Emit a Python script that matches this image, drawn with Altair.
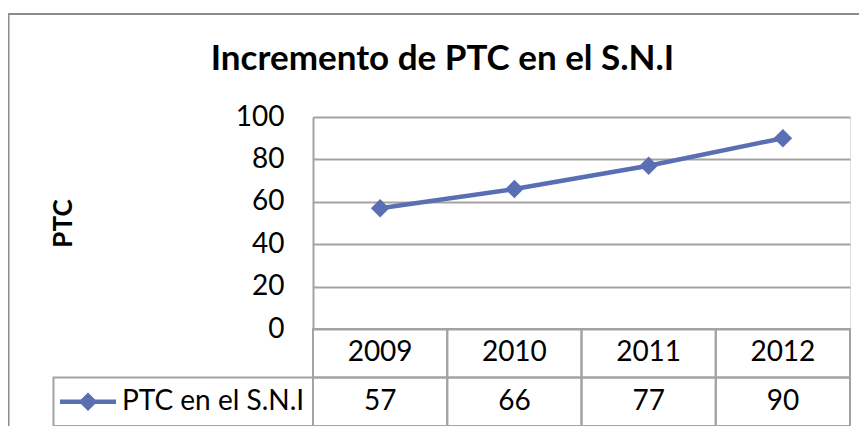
import altair as alt
import pandas as pd

# ---- data ----
title_text = "Incremento de PTC en el S.N.I"
y_title = "PTC"
series_name = "PTC en el S.N.I"
years = ["2009", "2010", "2011", "2012"]
values = [57, 66, 77, 90]
y_ticks = [0, 20, 40, 60, 80, 100]
table_rows = ["header", "data"]

# ---- style ----
BLUE = "#5A6FB3"
GRID = "#a3a3a3"
FRAME = "#8c8c8c"
FONT = "Lato"
W, H = 537, 309
UPPER = 212

line_df = pd.DataFrame({"year": years, "value": values})
table_df = pd.DataFrame({
    "year": years + years,
    "row": [table_rows[0]] * len(years) + [table_rows[1]] * len(years),
    "label": years + [str(v) for v in values],
})
legend_df = pd.DataFrame({"row": [table_rows[1]], "serie": [series_name]})
frame_df = pd.DataFrame({"k": [0]})

x_scale = alt.Scale(type="band", domain=years, paddingInner=0, paddingOuter=0)
x_band = alt.X("year:N", scale=x_scale, axis=None)
x_center = alt.X("year:N", scale=x_scale, axis=None, bandPosition=0.5)

y_val = alt.Y(
    "value:Q",
    scale=alt.Scale(domain=[0, 100], range=[UPPER, 0], nice=False),
    axis=alt.Axis(
        values=y_ticks, title=y_title, grid=True, gridColor=GRID, gridWidth=2,
        domainColor=GRID, domainWidth=2, ticks=False,
        labelFont=FONT, labelFontSize=28, labelColor="black", labelPadding=29,
        titleFont=FONT, titleFontSize=26, titleFontWeight="bold", titleColor="black",
        titleX=-250, titleY=UPPER / 2, titleBaseline="middle", titleAngle=270,
    ),
)

line = alt.Chart(line_df).mark_line(color=BLUE, strokeWidth=4.5).encode(x=x_center, y=y_val)
points = alt.Chart(line_df).mark_point(
    shape="diamond", filled=True, size=340, color=BLUE, opacity=1
).encode(x=x_center, y=y_val)
upper = alt.layer(line, points)

row_scale = alt.Scale(type="band", domain=table_rows, range=[UPPER, H], paddingInner=0, paddingOuter=0)
y_row = alt.Y("row:N", scale=row_scale, axis=None)
y_row_c = alt.Y("row:N", scale=row_scale, axis=None, bandPosition=0.5)

cells = alt.Chart(table_df).mark_rect(
    fillOpacity=0, stroke=GRID, strokeWidth=2
).encode(x=x_band, y=y_row)
texts = alt.Chart(table_df).mark_text(
    font=FONT, fontSize=28, color="black", baseline="middle", align="center"
).encode(x=x_center, y=y_row_c, text="label:N")

legend_cell = alt.Chart(legend_df).mark_rect(
    fillOpacity=0, stroke=GRID, strokeWidth=2
).encode(x=alt.value(-259.5), x2=alt.value(0), y=y_row)
legend_line = alt.Chart(legend_df).mark_rule(color=BLUE, strokeWidth=4.5).encode(
    x=alt.value(-253), x2=alt.value(-197), y=y_row_c
)
legend_pt = alt.Chart(legend_df).mark_point(
    shape="diamond", filled=True, size=340, color=BLUE, opacity=1
).encode(x=alt.value(-225), y=y_row_c)
legend_text = alt.Chart(legend_df).mark_text(
    font=FONT, fontSize=28, color="black", baseline="middle", align="left"
).encode(x=alt.value(-191), y=y_row_c, text="serie:N")

frame = alt.Chart(frame_df).mark_rect(
    fillOpacity=0, stroke=FRAME, strokeWidth=2
).encode(x=alt.value(-304.5), x2=alt.value(W + 100), y=alt.value(-103), y2=alt.value(H + 100))

table = alt.layer(cells, texts, legend_cell, legend_line, legend_pt, legend_text, frame)

chart = alt.layer(upper, table).resolve_scale(y="independent").properties(
    width=W,
    height=H,
    title=alt.TitleParams(
        title_text, font=FONT, fontSize=35, fontWeight="bold", color="black",
        anchor="middle", dx=-139, offset=-92, baseline="alphabetic",
    ),
    padding={"left": 305, "top": 109, "right": 9, "bottom": 0},
    autosize=alt.AutoSizeParams(type="none"),
).configure_view(stroke=None).configure(background="white")

chart.save("out.html", embed_options={"renderer": "svg", "actions": False})
